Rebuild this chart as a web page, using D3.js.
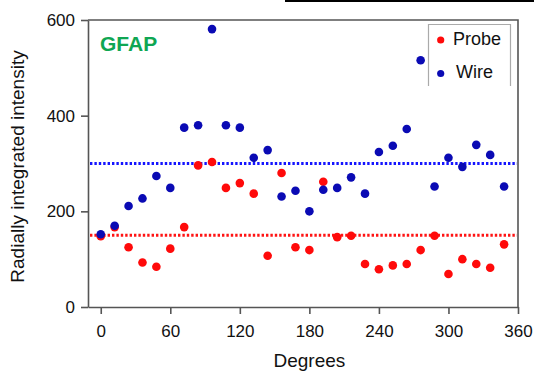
<!DOCTYPE html>
<html>
<head>
<meta charset="utf-8">
<script src="https://cdn.jsdelivr.net/npm/d3@7"></script>
<style>
  body { margin: 0; background: #fff; }
  svg { display: block; font-family: Arial, "Liberation Sans", sans-serif; }
</style>
</head>
<body>
<svg id="chart" width="534" height="377"></svg>
<script>
// Data
const degrees = [0, 12, 24, 36, 48, 60, 72, 84, 96, 108, 120, 132, 144, 156, 168,
  180, 192, 204, 216, 228, 240, 252, 264, 276, 288, 300, 312, 324, 336, 348];
const probeValues = [148, 167, 125, 93, 84, 122, 167, 296, 303, 249, 259, 237, 107, 280, 125,
  119, 262, 146, 149, 90, 79, 87, 90, 119, 149, 69, 100, 90, 82, 131];
const wireValues = [152, 170, 211, 227, 274, 249, 375, 380, 581, 380, 375, 312, 328, 231, 243,
  200, 245, 249, 271, 237, 324, 337, 372, 516, 252, 312, 293, 339, 318, 252];
const meanLevels = [300, 150]; // wire, probe
const xTicks = [0, 60, 120, 180, 240, 300, 360];
const yTicks = [0, 200, 400, 600];
const seriesNames = ['Probe', 'Wire'];

const colors = { probe: '#ff0a0a', wire: '#0a0ab4', probeLine: '#ff1414', wireLine: '#1414ff' };

const svg = d3.select('#chart');

const margin = { left: 88, right: 16, top: 20, bottom: 70 };
const width = 534 - margin.left - margin.right;
const height = 377 - margin.top - margin.bottom;

// stray black bar along the top edge of the source image
svg.append('rect')
  .attr('x', 285).attr('y', 0)
  .attr('width', 249).attr('height', 2)
  .attr('fill', '#000');

const main = svg.append('g')
  .attr('transform', `translate(${margin.left},${margin.top})`);

// Scalers
const x = d3.scaleLinear().domain([-11, 360]).range([0, width]);
const y = d3.scaleLinear().domain([0, 600]).range([height, 0]);

// Frame (top + right)
main.append('path')
  .attr('d', `M0,0H${width}V${height}`)
  .attr('fill', 'none')
  .attr('stroke', '#555')
  .attr('stroke-width', 1.6);

// Axes
const xAxis = main.append('g')
  .attr('transform', `translate(0,${height})`)
  .call(d3.axisBottom(x).tickValues(xTicks).tickSize(7).tickPadding(11).tickSizeOuter(0));

const yAxis = main.append('g')
  .call(d3.axisLeft(y).tickValues(yTicks).tickSize(7).tickPadding(6).tickSizeOuter(0));

[xAxis, yAxis].forEach((ax) => {
  ax.selectAll('path, line').attr('stroke', '#555').attr('stroke-width', 1.6);
  ax.selectAll('text')
    .attr('fill', '#111')
    .style('font-size', '17px')
    .style('font-family', 'Arial, "Liberation Sans", sans-serif');
});

// Axis titles
svg.append('text')
  .attr('x', margin.left + x(180))
  .attr('y', 367)
  .attr('text-anchor', 'middle')
  .attr('fill', '#111')
  .style('font-size', '19px')
  .text('Degrees');

svg.append('text')
  .attr('transform', `translate(24,${margin.top + y(300) + 3}) rotate(-90)`)
  .attr('text-anchor', 'middle')
  .attr('fill', '#111')
  .style('font-size', '19px')
  .text('Radially integrated intensity');

// Mean lines
const lineColors = [colors.wireLine, colors.probeLine];
main.selectAll('.mean')
  .data(meanLevels)
  .enter()
  .append('line')
  .attr('class', 'mean')
  .attr('x1', 2)
  .attr('x2', width - 1)
  .attr('y1', (d) => y(d))
  .attr('y2', (d) => y(d))
  .attr('stroke', (d, i) => lineColors[i])
  .attr('stroke-width', 3)
  .attr('stroke-dasharray', '2.4,2');

// Points
main.selectAll('.probe')
  .data(probeValues)
  .enter()
  .append('circle')
  .attr('class', 'probe')
  .attr('r', 4.3)
  .attr('cx', (d, i) => x(degrees[i]))
  .attr('cy', (d) => y(d))
  .attr('fill', colors.probe);

main.selectAll('.wire')
  .data(wireValues)
  .enter()
  .append('circle')
  .attr('class', 'wire')
  .attr('r', 4.3)
  .attr('cx', (d, i) => x(degrees[i]))
  .attr('cy', (d) => y(d))
  .attr('fill', colors.wire);

// GFAP label
svg.append('text')
  .attr('x', 100)
  .attr('y', 51)
  .attr('fill', '#0fa653')
  .style('font-size', '21px')
  .style('font-weight', 'bold')
  .text('GFAP');

// Legend
const legend = svg.append('g');
legend.append('path')
  .attr('d', 'M428.5,86V24.5H510.5V86')
  .attr('fill', '#fff')
  .attr('stroke', '#aaa')
  .attr('stroke-width', 1.2);

const legendRows = [
  { name: seriesNames[0], color: colors.probe, dotY: 40, textX: 453, textY: 44.5 },
  { name: seriesNames[1], color: colors.wire, dotY: 73.5, textX: 456, textY: 78 },
];
legendRows.forEach((r) => {
  legend.append('circle')
    .attr('cx', 440.7).attr('cy', r.dotY).attr('r', 3.6)
    .attr('fill', r.color);
  legend.append('text')
    .attr('x', r.textX).attr('y', r.textY)
    .attr('fill', '#111')
    .style('font-size', '18px')
    .text(r.name);
});
</script>
</body>
</html>
